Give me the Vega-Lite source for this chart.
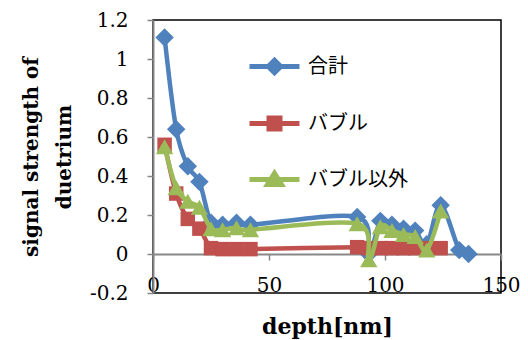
{
  "$schema": "https://vega.github.io/schema/vega-lite/v6.json",
  "autosize": "none",
  "width": 348,
  "height": 273,
  "padding": {"left": 153, "top": 20, "right": 27, "bottom": 47},
  "background": "white",
  "config": {
    "view": {"stroke": "#000000", "strokeWidth": 1.5},
    "font": "DejaVu Serif",
    "axis": {"labelOverlap": false},
    "axisY": {"labelOverlap": false, "tickCount": 8}
  },
  "data": {
    "values": [
      {"depth": 5, "series": "合計", "value": 1.11},
      {"depth": 10, "series": "合計", "value": 0.64},
      {"depth": 15, "series": "合計", "value": 0.45},
      {"depth": 20, "series": "合計", "value": 0.37},
      {"depth": 25, "series": "合計", "value": 0.16},
      {"depth": 30, "series": "合計", "value": 0.15},
      {"depth": 36, "series": "合計", "value": 0.16},
      {"depth": 42, "series": "合計", "value": 0.15},
      {"depth": 88, "series": "合計", "value": 0.19},
      {"depth": 93, "series": "合計", "value": 0.0},
      {"depth": 98, "series": "合計", "value": 0.17},
      {"depth": 103, "series": "合計", "value": 0.15},
      {"depth": 108, "series": "合計", "value": 0.13},
      {"depth": 113, "series": "合計", "value": 0.12},
      {"depth": 118, "series": "合計", "value": 0.05},
      {"depth": 124, "series": "合計", "value": 0.25},
      {"depth": 132, "series": "合計", "value": 0.02},
      {"depth": 136, "series": "合計", "value": 0.0},
      {"depth": 5, "series": "バブル", "value": 0.56},
      {"depth": 10, "series": "バブル", "value": 0.31},
      {"depth": 15, "series": "バブル", "value": 0.18},
      {"depth": 20, "series": "バブル", "value": 0.13},
      {"depth": 25, "series": "バブル", "value": 0.03},
      {"depth": 30, "series": "バブル", "value": 0.025},
      {"depth": 36, "series": "バブル", "value": 0.025},
      {"depth": 42, "series": "バブル", "value": 0.025},
      {"depth": 88, "series": "バブル", "value": 0.035},
      {"depth": 93, "series": "バブル", "value": 0.03},
      {"depth": 98, "series": "バブル", "value": 0.03},
      {"depth": 103, "series": "バブル", "value": 0.03},
      {"depth": 108, "series": "バブル", "value": 0.03},
      {"depth": 113, "series": "バブル", "value": 0.03},
      {"depth": 118, "series": "バブル", "value": 0.03},
      {"depth": 124, "series": "バブル", "value": 0.03},
      {"depth": 5, "series": "バブル以外", "value": 0.55},
      {"depth": 10, "series": "バブル以外", "value": 0.34},
      {"depth": 15, "series": "バブル以外", "value": 0.27},
      {"depth": 20, "series": "バブル以外", "value": 0.24},
      {"depth": 25, "series": "バブル以外", "value": 0.13},
      {"depth": 30, "series": "バブル以外", "value": 0.125},
      {"depth": 36, "series": "バブル以外", "value": 0.135},
      {"depth": 42, "series": "バブル以外", "value": 0.125},
      {"depth": 88, "series": "バブル以外", "value": 0.155},
      {"depth": 93, "series": "バブル以外", "value": -0.03},
      {"depth": 98, "series": "バブル以外", "value": 0.14},
      {"depth": 103, "series": "バブル以外", "value": 0.12},
      {"depth": 108, "series": "バブル以外", "value": 0.1},
      {"depth": 113, "series": "バブル以外", "value": 0.09},
      {"depth": 118, "series": "バブル以外", "value": 0.02},
      {"depth": 124, "series": "バブル以外", "value": 0.22}
    ]
  },
  "resolve": {"axis": {"x": "independent"}},
  "layer": [
    {
      "transform": [{"filter": "datum.series == '合計'"}],
      "mark": {"type": "line", "interpolate": "cardinal", "strokeWidth": 4.5, "strokeCap": "round", "strokeJoin": "round"},
      "encoding": {
        "x": {
          "field": "depth", "type": "quantitative",
          "scale": {"domain": [0, 150], "nice": false, "zero": false},
          "axis": {
            "orient": "bottom",
            "values": [0, 50, 100, 150], "format": "d",
            "domain": false, "ticks": false, "grid": false,
            "labelFont": "DejaVu Serif", "labelFontSize": 20, "labelColor": "#000",
            "labelBaseline": "alphabetic", "labelPadding": -2, "labelFlush": false,
            "title": "depth[nm]", "titleFont": "DejaVu Serif", "titleFontSize": 22,
            "titleFontWeight": "bold", "titleColor": "#000",
            "titleBaseline": "alphabetic", "titleY": 40
          }
        },
        "y": {
          "field": "value", "type": "quantitative",
          "scale": {"domain": [-0.2, 1.2], "nice": false, "zero": false},
          "axis": {
            "values": [-0.2, 0, 0.2, 0.4, 0.6, 0.8, 1, 1.2],
            "labelExpr": "datum.value < 0 ? '-' + format(-datum.value, '~g') : format(datum.value, '~g')",
            "labelOverlap": false,
            "grid": false,
            "domainColor": "#878787", "domainWidth": 2,
            "tickColor": "#878787", "tickWidth": 1.5, "tickSize": 6,
            "labelFont": "DejaVu Serif", "labelFontSize": 20, "labelColor": "#000", "labelPadding": 19,
            "title": ["signal strength of", "duetrium"],
            "titleFont": "DejaVu Serif", "titleFontSize": 20, "titleFontWeight": "bold", "titleColor": "#000",
            "titleAngle": -90, "titleBaseline": "middle", "titleLineHeight": 33,
            "titleX": -122, "titleY": 136.5, "titleAlign": "center"
          }
        },
        "color": {
          "field": "series", "type": "nominal",
          "scale": {"domain": ["合計", "バブル", "バブル以外"], "range": ["#4F81BD", "#C0504D", "#9BBB59"]},
          "legend": {
            "orient": "none", "legendX": 94, "legendY": 19,
            "title": null, "padding": 0, "rowPadding": 13,
            "symbolSize": 2500, "labelOffset": 6,
            "labelFont": "Noto Sans CJK JP", "labelFontSize": 20, "labelColor": "#000",
            "encode": {
              "symbols": {
                "update": {
                  "shape": {"signal": "datum.value == '合計' ? 'M-1,0L1,0M0,-0.25L0.25,0L0,0.25L-0.25,0Z' : datum.value == 'バブル' ? 'M-1,0L1,0M-0.22,-0.22L0.22,-0.22L0.22,0.22L-0.22,0.22Z' : 'M-1,0L1,0M0,-0.25L0.28,0.2L-0.28,0.2Z'"},
                  "fill": {"scale": "color", "field": "value"},
                  "stroke": {"scale": "color", "field": "value"},
                  "strokeWidth": {"value": 5},
                  "opacity": {"value": 1},
                  "fillOpacity": {"value": 1},
                  "strokeOpacity": {"value": 1}
                }
              }
            }
          }
        }
      }
    },
    {
      "transform": [{"filter": "datum.series == '合計'"}],
      "mark": {"type": "point", "filled": true, "opacity": 1, "shape": "diamond", "size": 340},
      "encoding": {
        "x": {
          "field": "depth", "type": "quantitative",
          "axis": {
            "orient": "bottom",
            "values": [0, 50, 100, 150], "offset": -39,
            "labels": false, "grid": false, "title": null,
            "domainColor": "#878787", "domainWidth": 2,
            "tickColor": "#878787", "tickWidth": 1.5, "tickSize": 6
          }
        },
        "y": {"field": "value", "type": "quantitative"},
        "color": {"field": "series", "type": "nominal", "legend": null}
      }
    },
    {
      "transform": [{"filter": "datum.series == 'バブル'"}],
      "mark": {"type": "line", "interpolate": "cardinal", "strokeWidth": 4.5, "strokeCap": "round", "strokeJoin": "round"},
      "encoding": {
        "x": {"field": "depth", "type": "quantitative", "axis": null},
        "y": {"field": "value", "type": "quantitative"},
        "color": {"field": "series", "type": "nominal", "legend": null}
      }
    },
    {
      "transform": [{"filter": "datum.series == 'バブル'"}],
      "mark": {"type": "point", "filled": true, "opacity": 1, "shape": "square", "size": 210},
      "encoding": {
        "x": {"field": "depth", "type": "quantitative", "axis": null},
        "y": {"field": "value", "type": "quantitative"},
        "color": {"field": "series", "type": "nominal", "legend": null}
      }
    },
    {
      "transform": [{"filter": "datum.series == 'バブル以外'"}],
      "mark": {"type": "line", "interpolate": "cardinal", "strokeWidth": 4.5, "strokeCap": "round", "strokeJoin": "round"},
      "encoding": {
        "x": {"field": "depth", "type": "quantitative", "axis": null},
        "y": {"field": "value", "type": "quantitative"},
        "color": {"field": "series", "type": "nominal", "legend": null}
      }
    },
    {
      "transform": [{"filter": "datum.series == 'バブル以外'"}],
      "mark": {"type": "point", "filled": true, "opacity": 1, "shape": "triangle-up", "size": 300},
      "encoding": {
        "x": {"field": "depth", "type": "quantitative", "axis": null},
        "y": {"field": "value", "type": "quantitative"},
        "color": {"field": "series", "type": "nominal", "legend": null}
      }
    }
  ]
}
